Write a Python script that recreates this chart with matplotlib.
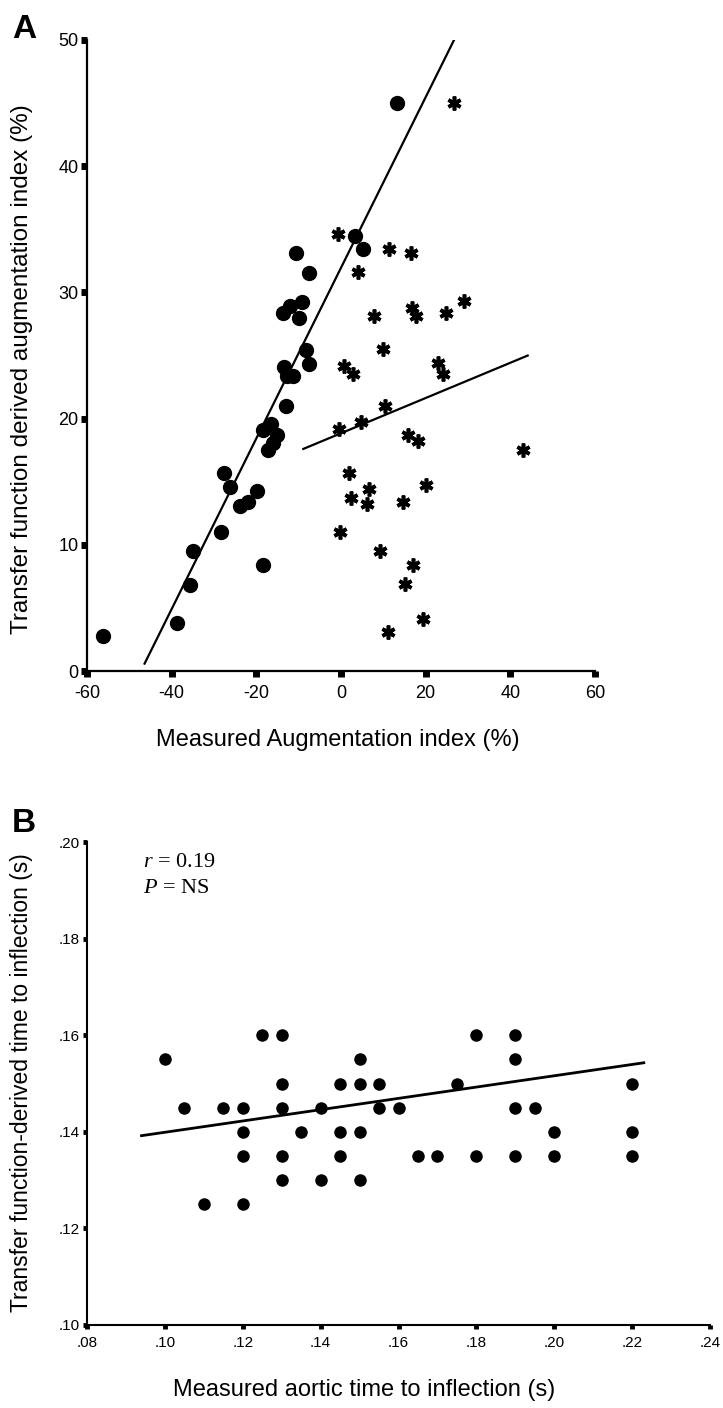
import matplotlib
matplotlib.use("Agg")
import matplotlib.pyplot as plt
import numpy as np
from matplotlib.ticker import FuncFormatter

plt.rcParams['font.family'] = ['Liberation Sans', 'DejaVu Sans']
plt.rcParams['mathtext.fontset'] = 'custom'
plt.rcParams['mathtext.it'] = 'Liberation Serif:italic'
plt.rcParams['mathtext.rm'] = 'Liberation Serif'

# ---------------- Panel A data ----------------
circ_measured = [-56.3, -38.7, -35.7, -35.0, -28.4, -27.6, -26.3, -23.9, -21.9, -19.8,
                 -18.4, -18.5, -16.6, -17.2, -16.0, -15.1, -12.9, -10.7, -7.5, -13.7,
                 -12.1, -9.3, -9.9, -8.3, -7.5, -13.5, -12.7, -11.3, 3.3, 5.3, 13.3]
circ_tf = [2.8, 3.8, 6.8, 9.5, 11.0, 15.7, 14.6, 13.1, 13.4, 14.3,
           8.4, 19.1, 19.6, 17.5, 18.1, 18.7, 21.0, 33.1, 31.5, 28.4,
           28.9, 29.2, 28.0, 25.4, 24.3, 24.1, 23.4, 23.4, 34.5, 33.4, 45.0]

star_measured = [-0.8, 4.1, 11.4, 16.6, 29.1, 24.9, 16.7, 17.7, 7.7, 9.9,
                 0.7, 2.9, 22.8, 24.2, 10.4, -0.4, 4.7, 15.9, 18.1, 42.9,
                 1.9, 2.3, 6.6, 6.2, 14.7, 20.0, -0.2, 9.2, 17.1, 15.0,
                 19.3, 11.2, 26.7]
star_tf = [34.6, 31.6, 33.4, 33.1, 29.3, 28.4, 28.8, 28.1, 28.1, 25.5,
           24.2, 23.5, 24.4, 23.5, 21.0, 19.2, 19.7, 18.7, 18.2, 17.5,
           15.7, 13.7, 14.4, 13.2, 13.4, 14.7, 11.0, 9.5, 8.4, 6.9,
           4.1, 3.1, 45.0]

# regression lines: (slope, intercept), x-range
fitA_circ = (0.676, 31.95)
fitA_circ_x = [-46.4, 27.0]
fitA_star = (0.1396, 18.84)
fitA_star_x = [-8.9, 44.1]

A_xticks = [-60, -40, -20, 0, 20, 40, 60]
A_yticks = [0, 10, 20, 30, 40, 50]

# ---------------- Panel B data ----------------
B_measured = [.10, .105, .11, .115,
              .12, .12, .12, .12,
              .125,
              .13, .13, .13, .13, .13,
              .135,
              .14, .14,
              .145, .145, .145,
              .15, .15, .15, .15,
              .155, .155,
              .16, .165, .17, .175,
              .18, .18,
              .19, .19, .19, .19,
              .195,
              .20, .20,
              .22, .22, .22]
B_tf = [.155, .145, .125, .145,
        .145, .14, .135, .125,
        .16,
        .16, .15, .145, .135, .13,
        .14,
        .145, .13,
        .15, .14, .135,
        .155, .15, .14, .13,
        .15, .145,
        .145, .135, .135, .15,
        .16, .135,
        .16, .155, .145, .135,
        .145,
        .14, .135,
        .15, .14, .135]

fitB = (0.117, 0.1282)
fitB_x = [0.094, 0.223]

B_xticks = [.08, .10, .12, .14, .16, .18, .20, .22, .24]
B_yticks = [.10, .12, .14, .16, .18, .20]

W, H = 723, 1408
fig = plt.figure(figsize=(W / 100, H / 100), dpi=100)

# ---------------- Panel A ----------------
axA = fig.add_axes([87 / W, 1 - 671 / H, (595 - 87) / W, (671 - 40) / H])
axA.set_xlim(-60, 60)
axA.set_ylim(0, 50)
for s in ['top', 'right']:
    axA.spines[s].set_visible(False)
for s in ['left', 'bottom']:
    axA.spines[s].set_linewidth(1.6)

xs = np.array(fitA_circ_x)
axA.plot(xs, fitA_circ[0] * xs + fitA_circ[1], color='black', lw=1.6, zorder=2)
xs2 = np.array(fitA_star_x)
axA.plot(xs2, fitA_star[0] * xs2 + fitA_star[1], color='black', lw=1.6, zorder=2)

axA.plot(circ_measured, circ_tf, 'o', color='black', markersize=10, clip_on=False, zorder=3)
axA.plot(star_measured, star_tf, linestyle='none', marker=(6, 2, 0), color='black',
         markersize=10, markeredgewidth=2.6, clip_on=False, zorder=3)

axA.set_xticks(A_xticks)
axA.set_yticks(A_yticks)
axA.set_xticklabels([str(t) for t in A_xticks])
axA.set_yticklabels([str(t) for t in A_yticks])
axA.tick_params(axis='both', direction='out', length=4, width=5, labelsize=13, color='black')
axA.tick_params(axis='x', pad=6)
axA.tick_params(axis='y', pad=2)

fig.text(338 / W, 1 - 740 / H, 'Measured Augmentation index (%)', ha='center', va='center',
         fontsize=17)
fig.text(22 / W, 1 - 369 / H, 'Transfer function derived augmentation index (%)',
         ha='center', va='center', rotation=90, fontsize=17.5)
fig.text(12 / W, 1 - 30 / H, 'A', ha='left', va='center', fontsize=24, fontweight='bold')

# ---------------- Panel B ----------------
axB = fig.add_axes([87 / W, 1 - 1325 / H, (710 - 87) / W, (1325 - 842) / H])
axB.set_xlim(.08, .24)
axB.set_ylim(.10, .20)
for s in ['top', 'right']:
    axB.spines[s].set_visible(False)
for s in ['left', 'bottom']:
    axB.spines[s].set_linewidth(1.5)

xb = np.array(fitB_x)
axB.plot(xb, fitB[0] * xb + fitB[1], color='black', lw=2.0, zorder=2)
axB.plot(B_measured, B_tf, 'o', color='black', markersize=8, clip_on=False, zorder=3)

fmt = FuncFormatter(lambda v, p: ('%.2f' % v).lstrip('0'))
axB.set_xticks(B_xticks)
axB.set_yticks(B_yticks)
axB.xaxis.set_major_formatter(fmt)
axB.yaxis.set_major_formatter(fmt)
axB.tick_params(axis='both', direction='out', length=3, width=3.5, labelsize=11, color='black')
axB.tick_params(axis='x', pad=5)
axB.tick_params(axis='y', pad=2)

axB.text(0.0945, 0.1958, r'$r$ = 0.19', fontsize=16, family='Liberation Serif',
         ha='left', va='center')
axB.text(0.0945, 0.1903, r'$P$ = NS', fontsize=16, family='Liberation Serif',
         ha='left', va='center')

fig.text(364 / W, 1 - 1390 / H, 'Measured aortic time to inflection (s)', ha='center',
         va='center', fontsize=17)
fig.text(22 / W, 1 - 1083 / H, 'Transfer function-derived time to inflection (s)',
         ha='center', va='center', rotation=90, fontsize=16.5)
fig.text(12 / W, 1 - 823 / H, 'B', ha='left', va='center', fontsize=24, fontweight='bold')

fig.savefig('out.png', dpi=100)
